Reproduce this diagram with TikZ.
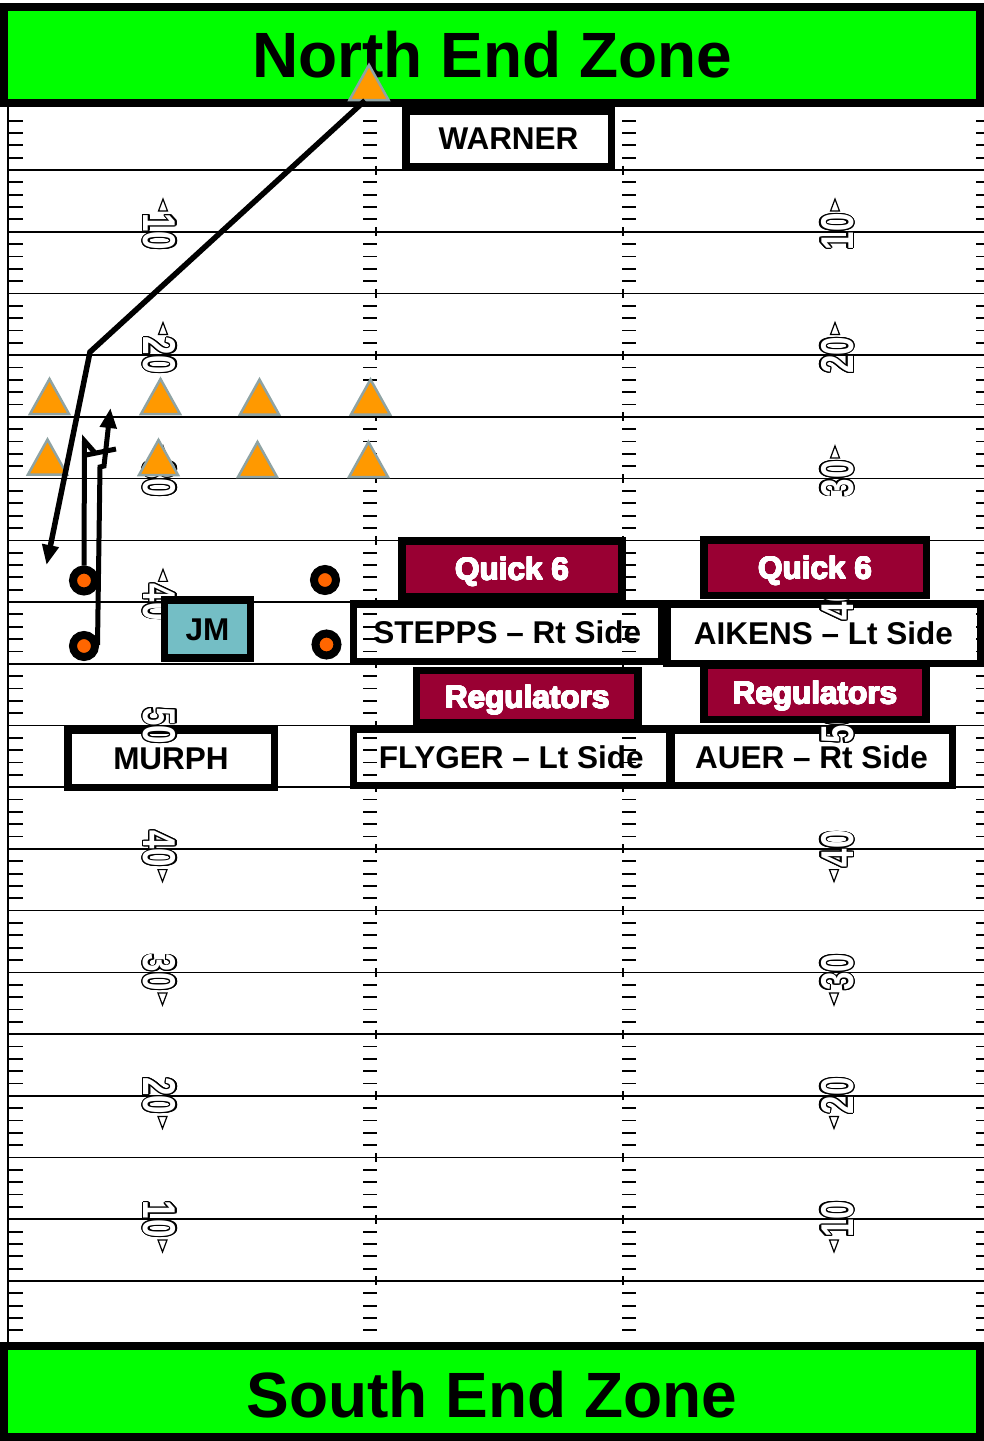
\documentclass[tikz,border=0pt]{standalone}
\usepackage{fontspec}
\setmainfont{Liberation Sans}
\usepackage[copies]{contour}
\usetikzlibrary{arrows.meta,calc}
\definecolor{ezgreen}{RGB}{0,255,0}
\definecolor{qmaroon}{RGB}{153,0,51}
\definecolor{jmteal}{RGB}{116,190,197}
\definecolor{dorange}{RGB}{255,153,0}
\definecolor{dgray}{RGB}{143,163,163}
\definecolor{oorange}{RGB}{255,102,0}
\newcommand\yardnum[1]{\scalebox{0.72}[1]{\color{white}\contourlength{1.3pt}\contour{black}{#1}}}
\newcommand\heavywhite[1]{{\color{white}\contourlength{0.6pt}\contour{white}{#1}}}
\tikzset{
  lbl/.style={font=\fontsize{31.5}{36}\selectfont\bfseries, text height=22.7pt, text depth=0pt, inner sep=0pt},
  wbox/.style={lbl, draw=black, line width=7.5pt, fill=white},
  mbox/.style={lbl, draw=black, line width=7.5pt, fill=qmaroon, text=white},
  tbox/.style={lbl, draw=black, line width=7.5pt, fill=jmteal},
  ezbox/.style={draw=black, line width=8pt, fill=ezgreen, inner sep=0pt, font=\fontsize{64}{70}\selectfont\bfseries, text depth=0pt},
  yardline/.style={line width=1.6pt, draw=black},
  hashmk/.style={line width=1.8pt, draw=black},
  ynum/.style={inner sep=0pt, font=\fontsize{46}{46}\selectfont\bfseries},
  ymark/.style={draw=black, fill=white, line width=1.2pt},
  player/.style={circle, draw=black, line width=8pt, fill=oorange, minimum size=22pt, inner sep=0pt},
  route/.style={line width=5pt, line join=miter, draw=black},
  rarrow/.style={route, -{Triangle[length=20pt,width=16pt]}},
  upmark/.pic={\draw[ymark] (-4.5,6) -- (0,-6) -- (4.5,6) -- cycle;},
  downmark/.pic={\draw[ymark] (-4.5,-6) -- (0,6) -- (4.5,-6) -- cycle;},
  defender/.pic={\draw[fill=dorange, draw=dgray, line width=2.5pt] (-19.5,17.5) -- (0,-17.5) -- (19.5,17.5) -- cycle;}
}
\begin{document}
\begin{tikzpicture}[x=1pt,y=-1pt]
\path[use as bounding box, fill=white] (0,0) rectangle (984,1441);

% white name boxes (under the field markings)
\node[wbox, minimum width=205.5pt, minimum height=55.5pt] (warner) at (508.5,138.5) {WARNER};
\node[wbox, minimum width=206.5pt, minimum height=57.5pt] (murph) at (171,758.5) {MURPH};
\node[wbox, minimum width=308pt, minimum height=57.5pt] (stepps) at (507.25,632.5) {STEPPS – Rt Side};
\node[wbox, minimum width=313.5pt, minimum height=59.5pt] (aikens) at (823.5,633.5) {AIKENS – Lt Side};
\node[wbox, minimum width=316pt, minimum height=56.5pt] (flyger) at (511.25,757) {FLYGER – Lt Side};
\node[wbox, minimum width=281.5pt, minimum height=55.5pt] (auer) at (811.5,757.5) {AUER – Rt Side};

% field
\draw[line width=2.5pt] (8,107) -- (8,1343);
\foreach \n in {1,...,99}{
  \pgfmathsetmacro\yy{108.28+12.344*\n}
  \pgfmathtruncatemacro\mm{mod(\n,5)}
  \ifnum\mm=0
    \draw[yardline] (8,\yy) -- (984,\yy);
    \draw[hashmk] (376,\yy-4.5) -- (376,\yy+4.5);
    \draw[hashmk] (623,\yy-4.5) -- (623,\yy+4.5);
  \else
    \draw[hashmk] (8,\yy) -- (23,\yy) (363,\yy) -- (377,\yy) (622,\yy) -- (636,\yy) (976,\yy) -- (984,\yy);
  \fi
}
\foreach \k/\lab in {1/10,3/20,5/30,7/40,9/50,11/40,13/30,15/20,17/10}{
  \pgfmathsetmacro\yy{170+61.72*\k}
  \node[ynum, rotate=-90] (nl\k) at (159,\yy) {\yardnum{\lab}};
  \node[ynum, rotate=90] (nr\k) at (838,\yy) {\yardnum{\lab}};
  \ifnum\k<9
    \pic at (163,\yy-26.7) {upmark};
    \pic at (835,\yy-26.7) {upmark};
  \fi
  \ifnum\k>9
    \pic at (162.5,\yy+26.7) {downmark};
    \pic at (834,\yy+26.7) {downmark};
  \fi
}

% coloured boxes (over the field)
\node[mbox, minimum width=219.6pt, minimum height=55.5pt] (q6l) at (512,568.5) {\heavywhite{Quick 6}};
\node[mbox, minimum width=222.5pt, minimum height=55.5pt] (q6r) at (815,567.5) {\heavywhite{Quick 6}};
\node[mbox, minimum width=221.6pt, minimum height=52.5pt] (regl) at (527.2,696.75) {\heavywhite{Regulators}};
\node[mbox, minimum width=222.25pt, minimum height=53.75pt] (regr) at (814.9,692.4) {\heavywhite{Regulators}};
\node[tbox, minimum width=85.75pt, minimum height=58.25pt] (jm) at (207.4,628.9) {JM};

% end zones
\node[ezbox, minimum width=976pt, minimum height=96.5pt, text height=46pt] (north) at (492,54.75) {North End Zone};
\node[ezbox, minimum width=976pt, minimum height=91.25pt, text height=51.2pt] (south) at (492,1391.4) {South End Zone};

% defense
\coordinate (d0) at (369,82.5);
\coordinate (d1) at (49.5,396.5);
\coordinate (d2) at (160.5,396.5);
\coordinate (d3) at (259.5,397);
\coordinate (d4) at (370.5,397);
\coordinate (d5) at (47.5,457);
\coordinate (d6) at (158.5,457.5);
\coordinate (d7) at (257.5,459.5);
\coordinate (d8) at (368.5,459.5);
\foreach \d in {d0,d1,d2,d3,d4,d5,d6,d7,d8}{\pic at (\d) {defender};}

% offense
\node[player] (o1) at (84,580.5) {};
\node[player] (o2) at (84,646) {};
\node[player] (o3) at (325,580) {};
\node[player] (o4) at (326.5,644.5) {};

% routes
\coordinate (r1s) at ($(d0)+(-4,18)$);
\coordinate (r1b) at (90,352);
\coordinate (r1e) at (46.5,565);
\draw[rarrow, line width=5.5pt] (r1s) -- (r1b) -- (r1e);

\coordinate (r2p) at (84.5,441);
\coordinate (r2q) at (96,454);
\draw[route] (o1.north) -- (r2p) -- (r2q);
\coordinate (r2c1) at (86,455);
\coordinate (r2c2) at (116,449);
\draw[route] (r2c1) -- (r2c2);

\coordinate (r3s) at (97.5,645);
\coordinate (r3a) at (100,467);
\coordinate (r3b) at (104,466);
\coordinate (r3e) at (110.5,408);
\draw[rarrow] (r3s) -- (r3a) -- (r3b) -- (r3e);
\end{tikzpicture}
\end{document}
